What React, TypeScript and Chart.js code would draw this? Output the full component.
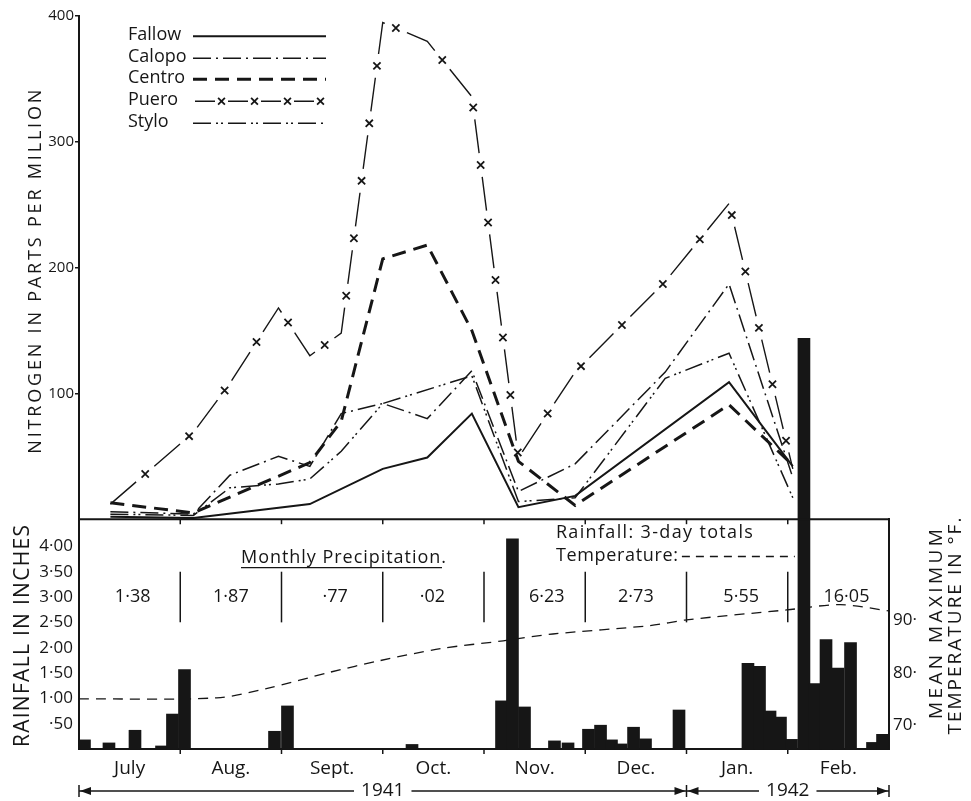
import React, { useEffect, useRef } from "react";
import { Chart, registerables } from "chart.js";
Chart.register(...registerables);

const FONT = "'Open Sans', 'DejaVu Sans', sans-serif";
const INK = "#161616";

// ---- categories / ticks ----
const monthLabels = ["July", "Aug.", "Sept.", "Oct.", "Nov.", "Dec.", "Jan.", "Feb."];
const monthCenters = [0.5, 1.5, 2.5, 3.5, 4.5, 5.5, 6.5, 7.5];
const monthBoundaries = [1, 2, 3, 4, 5, 6, 7];
const monthlyPrecip = ["1·38", "1·87", "·77", "·02", "6·23", "2·73", "5·55", "16·05"];
const precipLabelAt = [0.53, 1.5, 2.53, 3.49, 4.62, 5.5, 6.54, 7.58];
const yearLabels = ["1941", "1942"];
const nitrogenTicks = [100, 200, 300, 400];
const rainTicks = [0.5, 1, 1.5, 2, 2.5, 3, 3.5, 4];
const rainTickLabels = ["·50", "1·00", "1·50", "2·00", "2·50", "3·00", "3·50", "4·00"];
const tempTicks = [70, 80, 90];
const tempTickLabels = ["70·", "80·", "90·"];

// ---- nitrogen sampling dates (months from 1 July 1941) ----
const sampleMonths = [0.31, 1.13, 1.49, 1.97, 2.28, 2.59, 3.0, 3.44, 3.88, 4.34, 4.9, 5.79, 6.42, 7.05];
const fallow = [2, 1, null, null, 12, null, 40, 49, 84, 9.5, 18.5, null, 109, 42];
const calopo = [6, 4, 35, 50, 42, 84, 92, 80, 118, 22, 44, 117, 187, 33];
const centro = [13, 5, null, null, 45, 78, 207, 218, 150, 46, 11, null, 91, 43];
const puero = [12, 69, 108, 168, 130, 148, 395, 380, 336, 49, 117, 189, 251, 40];
const stylo = [4, 3, 25, 28, 32, 54, 92, null, 114, 14, 17, 112, 132, 17];

// ---- rainfall, 3-day totals ----
const rainMonths = [0.054, 0.296, 0.553, 0.815, 0.923, 1.042, 1.931, 2.059, 3.289, 4.173, 4.281, 4.4, 4.696, 4.83,
  5.032, 5.151, 5.259, 5.353, 5.477, 5.595, 5.926, 6.607, 6.721, 6.825, 6.928, 7.037, 7.16, 7.269, 7.378, 7.496,
  7.62, 7.837, 7.936];
const rainInches = [0.18, 0.12, 0.37, 0.06, 0.69, 1.57, 0.35, 0.85, 0.09, 0.95, 4.15, 0.83, 0.16, 0.12,
  0.39, 0.47, 0.18, 0.1, 0.43, 0.2, 0.77, 1.69, 1.63, 0.75, 0.63, 0.19, 8.11, 1.29, 2.16, 1.6,
  2.1, 0.13, 0.29];

// ---- mean maximum temperature ----
const tempMonths = [0, 1.36, 1.86, 2.48, 2.97, 3.57, 4.19, 4.68, 5.64, 6.0, 6.99, 7.52, 8.0];
const tempF = [75, 75.2, 77, 80.1, 82.3, 84.6, 86.1, 87.4, 89, 90.1, 92, 93, 91.8];

const seriesNames = ["Fallow", "Calopo", "Centro", "Puero", "Stylo"];
const seriesValues = [fallow, calopo, centro, puero, stylo];
const seriesStyle = [
  { dash: [] as number[], width: 2 },
  { dash: [18, 5, 2, 5], width: 1.5 },
  { dash: [14, 8], width: 3 },
  { dash: [34, 24], width: 1.4 },
  { dash: [18, 5, 2, 3, 2, 5], width: 1.5 },
];

function drawSpaced(ctx: CanvasRenderingContext2D, text: string, x: number, y: number, target: number, align: string) {
  (ctx as any).letterSpacing = "0px";
  const w0 = ctx.measureText(text).width;
  const n = Array.from(text).length;
  const ls = n > 1 && target ? (target - w0) / (n - 1) : 0;
  (ctx as any).letterSpacing = ls + "px";
  const total = w0 + ls * (n - 1);
  ctx.textAlign = "left";
  const x0 = align === "center" ? x - total / 2 : align === "right" ? x - total : x;
  ctx.fillText(text, x0, y);
  (ctx as any).letterSpacing = "0px";
  return total;
}

function line(ctx: CanvasRenderingContext2D, x1: number, y1: number, x2: number, y2: number) {
  ctx.beginPath();
  ctx.moveTo(x1, y1);
  ctx.lineTo(x2, y2);
  ctx.stroke();
}

function cross(ctx: CanvasRenderingContext2D, x: number, y: number, r: number) {
  ctx.beginPath();
  ctx.moveTo(x - r, y - r);
  ctx.lineTo(x + r, y + r);
  ctx.moveTo(x + r, y - r);
  ctx.lineTo(x - r, y + r);
  ctx.stroke();
}

function marksAlong(ctx: CanvasRenderingContext2D, pts: { x: number; y: number }[], dash: number[], r: number) {
  const period = dash[0] + dash[1];
  let target = dash[0] + dash[1] / 2;
  let acc = 0;
  for (let i = 1; i < pts.length; i++) {
    const a = pts[i - 1], b = pts[i];
    const len = Math.hypot(b.x - a.x, b.y - a.y);
    while (target <= acc + len) {
      const t = (target - acc) / len;
      cross(ctx, a.x + (b.x - a.x) * t, a.y + (b.y - a.y) * t, r);
      target += period;
    }
    acc += len;
  }
}

function arrowHead(ctx: CanvasRenderingContext2D, x: number, y: number, dir: number) {
  ctx.beginPath();
  ctx.moveTo(x, y);
  ctx.lineTo(x - dir * 11, y - 4);
  ctx.lineTo(x - dir * 11, y + 4);
  ctx.closePath();
  ctx.fill();
}

const decor = {
  id: "decor",
  afterDatasetsDraw(chart: any) {
    const ctx: CanvasRenderingContext2D = chart.ctx;
    const { x, yN, yR } = chart.scales;
    const area = chart.chartArea;
    ctx.save();
    ctx.fillStyle = INK;
    ctx.strokeStyle = INK;
    ctx.lineCap = "butt";

    // crosses on the Puero line
    const pIdx = 1 + seriesNames.indexOf("Puero");
    const meta = chart.getDatasetMeta(pIdx);
    const pts = meta.data.filter((p: any) => !p.skip).map((p: any) => ({ x: p.x, y: p.y }));
    ctx.lineWidth = 1.8;
    marksAlong(ctx, pts, seriesStyle[3].dash, 3.6);

    // panel separator + month ticks
    ctx.lineWidth = 2;
    line(ctx, area.left, yR.top, area.right, yR.top);
    ctx.lineWidth = 1.5;
    monthBoundaries.forEach((b) => {
      const px = x.getPixelForValue(b);
      line(ctx, px, yR.top, px, yR.top + 5);
      line(ctx, px, yR.bottom, px, yR.bottom + 5);
      line(ctx, px, yR.getPixelForValue(3.5), px, yR.getPixelForValue(2.5));
    });

    // monthly precipitation table
    ctx.textBaseline = "middle";
    ctx.font = `18px ${FONT}`;
    monthlyPrecip.forEach((t, i) => {
      drawSpaced(ctx, t, x.getPixelForValue(precipLabelAt[i]), yR.getPixelForValue(3.0), 0, "center");
    });
    const hx = x.getPixelForValue(1.6);
    const hy = yR.getPixelForValue(3.78);
    const hw = drawSpaced(ctx, "Monthly Precipitation.", hx, hy, 205, "left");
    ctx.lineWidth = 1.3;
    line(ctx, hx, hy + 10, hx + hw - 4, hy + 10);

    // rainfall / temperature notes
    const nx = x.getPixelForValue(4.71);
    drawSpaced(ctx, "Rainfall: 3-day totals", nx, yR.getPixelForValue(4.27), 197, "left");
    const tw = drawSpaced(ctx, "Temperature:", nx, yR.getPixelForValue(3.82), 122, "left");
    ctx.lineWidth = 1.3;
    ctx.setLineDash([8, 6]);
    const ty = yR.getPixelForValue(3.8);
    line(ctx, nx + tw + 4, ty, x.getPixelForValue(7.07), ty);
    ctx.setLineDash([]);

    // legend
    const lx = area.left + 49;
    const sx1 = area.left + 114;
    const sx2 = area.left + 247;
    const rows = [19, 41, 62, 84, 106];
    ctx.font = `18px ${FONT}`;
    seriesNames.forEach((name, i) => {
      const yy = area.top + rows[i];
      ctx.fillStyle = INK;
      drawSpaced(ctx, name, lx, yy, 0, "left");
      const st = seriesStyle[i];
      ctx.lineWidth = st.width;
      if (name === "Puero") {
        const d = [20, 13];
        ctx.setLineDash(d);
        line(ctx, sx1 + 2, yy + 1, sx2, yy + 1);
        ctx.setLineDash([]);
        ctx.lineWidth = 1.8;
        marksAlong(ctx, [{ x: sx1 + 2, y: yy + 1 }, { x: sx2, y: yy + 1 }], d, 3.4);
      } else {
        ctx.setLineDash(st.dash);
        line(ctx, sx1, yy + 1, sx2, yy + 1);
        ctx.setLineDash([]);
      }
    });

    // axis titles
    ctx.fillStyle = INK;
    const rot = (txt: string, cx: number, cy: number, len: number, size: number) => {
      ctx.save();
      ctx.translate(cx, cy);
      ctx.rotate(-Math.PI / 2);
      ctx.font = `${size}px ${FONT}`;
      ctx.textBaseline = "middle";
      drawSpaced(ctx, txt, 0, 0, len, "center");
      ctx.restore();
    };
    rot("NITROGEN IN PARTS PER MILLION", 36, (yN.top + yN.bottom) / 2 + 4, 364, 18);
    rot("RAINFALL IN INCHES", 23, (yR.top + yR.bottom) / 2 + 2, 222, 21);
    rot("MEAN MAXIMUM", 937, (yR.top + yR.bottom) / 2 - 10, 190, 19);
    rot("TEMPERATURE IN °F.", 956, (yR.top + yR.bottom) / 2 - 8, 217, 19);

    // year arrows
    const ay = 791;
    const xs = x.getPixelForValue(0);
    const xm = x.getPixelForValue(6);
    const xe = x.getPixelForValue(8);
    const c1 = x.getPixelForValue(3);
    const c2 = x.getPixelForValue(7);
    ctx.font = `19px ${FONT}`;
    ctx.textBaseline = "middle";
    const w1 = ctx.measureText(yearLabels[0]).width;
    const w2 = ctx.measureText(yearLabels[1]).width;
    drawSpaced(ctx, yearLabels[0], c1, ay, 0, "center");
    drawSpaced(ctx, yearLabels[1], c2, ay, 0, "center");
    ctx.lineWidth = 1.5;
    line(ctx, xs, ay, c1 - w1 / 2 - 7, ay);
    line(ctx, c1 + w1 / 2 + 7, ay, xm, ay);
    line(ctx, xm, ay, c2 - w2 / 2 - 7, ay);
    line(ctx, c2 + w2 / 2 + 7, ay, xe, ay);
    line(ctx, xs, ay - 6, xs, ay + 6);
    line(ctx, xm, ay - 6, xm, ay + 6);
    line(ctx, xe, ay - 6, xe, ay + 6);
    arrowHead(ctx, xs + 1, ay, -1);
    arrowHead(ctx, xm - 1, ay, 1);
    arrowHead(ctx, xm + 1, ay, -1);
    arrowHead(ctx, xe - 1, ay, 1);

    ctx.restore();
  },
};

export default function App() {
  const ref = useRef<HTMLCanvasElement>(null);
  useEffect(() => {
    const canvas = ref.current!;
    const lineSets = seriesNames.map((name, i) => ({
      type: "line" as const,
      label: name,
      data: sampleMonths.map((m, j) => ({ x: m, y: seriesValues[i][j] })),
      xAxisID: "x",
      yAxisID: "yN",
      borderColor: INK,
      borderWidth: seriesStyle[i].width,
      borderDash: seriesStyle[i].dash,
      pointRadius: 0,
      spanGaps: true,
      tension: 0,
      fill: false,
      clip: 4,
    }));
    const chart = new Chart(canvas, {
      type: "line",
      data: {
        datasets: [
          {
            type: "bar",
            label: "Rainfall",
            data: rainMonths.map((m, j) => ({ x: m, y: rainInches[j] })),
            xAxisID: "x",
            yAxisID: "yR",
            backgroundColor: INK,
            borderWidth: 0,
            barThickness: 12,
            clip: false,
          } as any,
          ...lineSets,
          {
            type: "line",
            label: "Temperature",
            data: tempMonths.map((m, j) => ({ x: m, y: tempF[j] })),
            xAxisID: "x",
            yAxisID: "yT",
            borderColor: INK,
            borderWidth: 1.3,
            borderDash: [10, 7],
            pointRadius: 0,
            tension: 0.3,
            fill: false,
          },
        ],
      },
      options: {
        responsive: false,
        animation: false,
        devicePixelRatio: 1,
        layout: { padding: { top: 14, left: 0, right: 0, bottom: 0 } },
        plugins: { legend: { display: false }, tooltip: { enabled: false } },
        scales: {
          x: {
            type: "linear",
            position: "bottom",
            offset: false,
            min: 0,
            max: 8,
            grid: { display: false, drawTicks: false, offset: false },
            border: { display: true, color: INK, width: 2 },
            afterBuildTicks: (s: any) => {
              s.ticks = monthCenters.map((v) => ({ value: v }));
            },
            ticks: {
              autoSkip: false,
              maxRotation: 0,
              padding: 8,
              color: INK,
              font: { family: FONT, size: 19 },
              callback: (_v: any, i: number) => monthLabels[i],
            },
            afterFit: (s: any) => {
              s.height = 52;
            },
          },
          yN: {
            type: "linear",
            position: "left",
            stack: "L",
            stackWeight: 504.5,
            weight: 2,
            min: 0,
            max: 400,
            grid: { drawOnChartArea: false, drawTicks: true, tickLength: 4, color: INK, lineWidth: 1.5 },
            border: { display: true, color: INK, width: 2 },
            afterBuildTicks: (s: any) => {
              s.ticks = nitrogenTicks.map((v) => ({ value: v }));
            },
            ticks: { autoSkip: false, padding: 1, color: INK, font: { family: FONT, size: 15 }, callback: (v: any) => String(v) },
            afterFit: (s: any) => {
              s.width = 79;
            },
          },
          yR: {
            type: "linear",
            position: "left",
            stack: "L",
            stackWeight: 230.5,
            weight: 1,
            min: 0,
            max: 4.537,
            grid: { display: false, drawTicks: false },
            border: { display: true, color: INK, width: 2 },
            afterBuildTicks: (s: any) => {
              s.ticks = rainTicks.map((v) => ({ value: v }));
            },
            ticks: {
              autoSkip: false,
              padding: 6,
              color: INK,
              font: { family: FONT, size: 17 },
              callback: (_v: any, i: number) => rainTickLabels[i],
            },
            afterFit: (s: any) => {
              s.width = 79;
            },
          },
          yTop: {
            type: "linear",
            position: "right",
            stack: "R",
            stackWeight: 504.5,
            weight: 1,
            display: false,
            min: 0,
            max: 1,
          },
          yT: {
            type: "linear",
            position: "right",
            stack: "R",
            stackWeight: 230.5,
            weight: 2,
            min: 65.43,
            max: 109.33,
            grid: { display: false, drawTicks: false },
            border: { display: true, color: INK, width: 2 },
            afterBuildTicks: (s: any) => {
              s.ticks = tempTicks.map((v) => ({ value: v }));
            },
            ticks: {
              autoSkip: false,
              padding: 4,
              color: INK,
              font: { family: FONT, size: 17 },
              callback: (_v: any, i: number) => tempTickLabels[i],
            },
            afterFit: (s: any) => {
              s.width = 82;
            },
          },
        },
      } as any,
      plugins: [decor],
    });
    return () => chart.destroy();
  }, []);
  return (
    <div style={{ position: "absolute", left: 0, top: 0, width: 971, height: 801, background: "#fff" }}>
      <canvas ref={ref} width={971} height={801} style={{ display: "block" }} />
    </div>
  );
}
